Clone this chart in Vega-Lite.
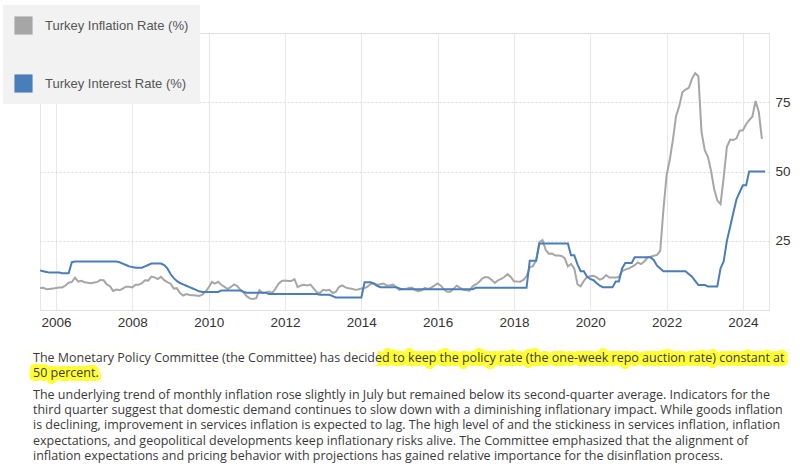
{
  "$schema": "https://vega.github.io/schema/vega-lite/v6.json",
  "padding": {"left": 3, "top": 5, "right": 0, "bottom": 0},
  "background": "white",
  "spacing": 23,
  "config": {
    "view": {"stroke": "#e6e6e6"},
    "axis": {"labelFont": "Liberation Sans", "labelFontSize": 13.5, "labelColor": "#333", "ticks": false, "domain": false, "title": null}
  },
  "datasets": {
    "ts": [
      {"d":"2005-08-01","i":7.91,"r":14.25},{"d":"2005-09-01","i":7.99,"r":14.0},{"d":"2005-10-01","i":7.52,"r":13.75},{"d":"2005-11-01","i":7.61,"r":13.5},{"d":"2005-12-01","i":7.72,"r":13.5},
      {"d":"2006-01-01","i":7.93,"r":13.5},{"d":"2006-02-01","i":8.15,"r":13.5},{"d":"2006-03-01","i":8.16,"r":13.25},{"d":"2006-04-01","i":8.83,"r":13.25},{"d":"2006-05-01","i":9.86,"r":13.25},{"d":"2006-06-01","i":10.12,"r":17.25},{"d":"2006-07-01","i":11.69,"r":17.5},{"d":"2006-08-01","i":10.26,"r":17.5},{"d":"2006-09-01","i":10.55,"r":17.5},{"d":"2006-10-01","i":9.98,"r":17.5},{"d":"2006-11-01","i":9.86,"r":17.5},{"d":"2006-12-01","i":9.65,"r":17.5},
      {"d":"2007-01-01","i":9.93,"r":17.5},{"d":"2007-02-01","i":10.16,"r":17.5},{"d":"2007-03-01","i":10.86,"r":17.5},{"d":"2007-04-01","i":10.72,"r":17.5},{"d":"2007-05-01","i":9.23,"r":17.5},{"d":"2007-06-01","i":8.6,"r":17.5},{"d":"2007-07-01","i":6.9,"r":17.5},{"d":"2007-08-01","i":7.39,"r":17.5},{"d":"2007-09-01","i":7.12,"r":17.25},{"d":"2007-10-01","i":7.7,"r":16.75},{"d":"2007-11-01","i":8.4,"r":16.25},{"d":"2007-12-01","i":8.39,"r":15.75},
      {"d":"2008-01-01","i":8.17,"r":15.5},{"d":"2008-02-01","i":9.1,"r":15.25},{"d":"2008-03-01","i":9.15,"r":15.25},{"d":"2008-04-01","i":9.66,"r":15.25},{"d":"2008-05-01","i":10.74,"r":15.75},{"d":"2008-06-01","i":10.61,"r":16.25},{"d":"2008-07-01","i":12.06,"r":16.75},{"d":"2008-08-01","i":11.77,"r":16.75},{"d":"2008-09-01","i":11.13,"r":16.75},{"d":"2008-10-01","i":11.99,"r":16.75},{"d":"2008-11-01","i":10.76,"r":16.25},{"d":"2008-12-01","i":10.06,"r":15.0},
      {"d":"2009-01-01","i":9.5,"r":13.0},{"d":"2009-02-01","i":7.73,"r":11.5},{"d":"2009-03-01","i":7.89,"r":10.5},{"d":"2009-04-01","i":6.13,"r":9.75},{"d":"2009-05-01","i":5.24,"r":9.25},{"d":"2009-06-01","i":5.73,"r":8.75},{"d":"2009-07-01","i":5.39,"r":8.25},{"d":"2009-08-01","i":5.33,"r":7.75},{"d":"2009-09-01","i":5.27,"r":7.25},{"d":"2009-10-01","i":5.08,"r":6.75},{"d":"2009-11-01","i":5.53,"r":6.5},{"d":"2009-12-01","i":6.53,"r":6.5},
      {"d":"2010-01-01","i":8.19,"r":6.5},{"d":"2010-02-01","i":10.13,"r":6.5},{"d":"2010-03-01","i":9.56,"r":6.5},{"d":"2010-04-01","i":10.19,"r":6.5},{"d":"2010-05-01","i":9.1,"r":7.0},{"d":"2010-06-01","i":8.37,"r":7.0},{"d":"2010-07-01","i":7.58,"r":7.0},{"d":"2010-08-01","i":8.33,"r":7.0},{"d":"2010-09-01","i":9.24,"r":7.0},{"d":"2010-10-01","i":8.62,"r":7.0},{"d":"2010-11-01","i":7.29,"r":7.0},{"d":"2010-12-01","i":6.4,"r":6.5},
      {"d":"2011-01-01","i":4.9,"r":6.25},{"d":"2011-02-01","i":4.16,"r":6.25},{"d":"2011-03-01","i":3.99,"r":6.25},{"d":"2011-04-01","i":4.26,"r":6.25},{"d":"2011-05-01","i":7.17,"r":6.25},{"d":"2011-06-01","i":6.24,"r":6.25},{"d":"2011-07-01","i":6.31,"r":6.25},{"d":"2011-08-01","i":6.65,"r":5.75},{"d":"2011-09-01","i":6.15,"r":5.75},{"d":"2011-10-01","i":7.66,"r":5.75},{"d":"2011-11-01","i":9.48,"r":5.75},{"d":"2011-12-01","i":10.45,"r":5.75},
      {"d":"2012-01-01","i":10.61,"r":5.75},{"d":"2012-02-01","i":10.43,"r":5.75},{"d":"2012-03-01","i":10.43,"r":5.75},{"d":"2012-04-01","i":11.14,"r":5.75},{"d":"2012-05-01","i":8.28,"r":5.75},{"d":"2012-06-01","i":8.87,"r":5.75},{"d":"2012-07-01","i":9.07,"r":5.75},{"d":"2012-08-01","i":8.88,"r":5.75},{"d":"2012-09-01","i":9.19,"r":5.75},{"d":"2012-10-01","i":7.8,"r":5.75},{"d":"2012-11-01","i":6.37,"r":5.75},{"d":"2012-12-01","i":6.16,"r":5.5},
      {"d":"2013-01-01","i":7.31,"r":5.5},{"d":"2013-02-01","i":7.03,"r":5.5},{"d":"2013-03-01","i":7.29,"r":5.5},{"d":"2013-04-01","i":6.13,"r":5.0},{"d":"2013-05-01","i":6.51,"r":4.5},{"d":"2013-06-01","i":8.3,"r":4.5},{"d":"2013-07-01","i":8.88,"r":4.5},{"d":"2013-08-01","i":8.17,"r":4.5},{"d":"2013-09-01","i":7.88,"r":4.5},{"d":"2013-10-01","i":7.71,"r":4.5},{"d":"2013-11-01","i":7.32,"r":4.5},{"d":"2013-12-01","i":7.4,"r":4.5},
      {"d":"2014-01-01","i":7.75,"r":4.5},{"d":"2014-02-01","i":7.89,"r":10.0},{"d":"2014-03-01","i":8.39,"r":10.0},{"d":"2014-04-01","i":9.38,"r":10.0},{"d":"2014-05-01","i":9.66,"r":9.5},{"d":"2014-06-01","i":9.16,"r":8.75},{"d":"2014-07-01","i":9.32,"r":8.25},{"d":"2014-08-01","i":9.54,"r":8.25},{"d":"2014-09-01","i":8.86,"r":8.25},{"d":"2014-10-01","i":8.96,"r":8.25},{"d":"2014-11-01","i":9.15,"r":8.25},{"d":"2014-12-01","i":8.17,"r":8.25},
      {"d":"2015-01-01","i":7.24,"r":7.75},{"d":"2015-02-01","i":7.55,"r":7.5},{"d":"2015-03-01","i":7.61,"r":7.5},{"d":"2015-04-01","i":7.91,"r":7.5},{"d":"2015-05-01","i":8.09,"r":7.5},{"d":"2015-06-01","i":7.2,"r":7.5},{"d":"2015-07-01","i":6.81,"r":7.5},{"d":"2015-08-01","i":7.14,"r":7.5},{"d":"2015-09-01","i":7.95,"r":7.5},{"d":"2015-10-01","i":7.58,"r":7.5},{"d":"2015-11-01","i":8.1,"r":7.5},{"d":"2015-12-01","i":8.81,"r":7.5},
      {"d":"2016-01-01","i":9.58,"r":7.5},{"d":"2016-02-01","i":8.78,"r":7.5},{"d":"2016-03-01","i":7.46,"r":7.5},{"d":"2016-04-01","i":6.57,"r":7.5},{"d":"2016-05-01","i":6.58,"r":7.5},{"d":"2016-06-01","i":7.64,"r":7.5},{"d":"2016-07-01","i":8.79,"r":7.5},{"d":"2016-08-01","i":8.05,"r":7.5},{"d":"2016-09-01","i":7.28,"r":7.5},{"d":"2016-10-01","i":7.16,"r":7.5},{"d":"2016-11-01","i":7.0,"r":7.5},{"d":"2016-12-01","i":8.53,"r":7.5},
      {"d":"2017-01-01","i":9.22,"r":8.0},{"d":"2017-02-01","i":10.13,"r":8.0},{"d":"2017-03-01","i":11.29,"r":8.0},{"d":"2017-04-01","i":11.87,"r":8.0},{"d":"2017-05-01","i":11.72,"r":8.0},{"d":"2017-06-01","i":10.9,"r":8.0},{"d":"2017-07-01","i":9.79,"r":8.0},{"d":"2017-08-01","i":10.68,"r":8.0},{"d":"2017-09-01","i":11.2,"r":8.0},{"d":"2017-10-01","i":11.9,"r":8.0},{"d":"2017-11-01","i":12.98,"r":8.0},{"d":"2017-12-01","i":11.92,"r":8.0},
      {"d":"2018-01-01","i":10.35,"r":8.0},{"d":"2018-02-01","i":10.26,"r":8.0},{"d":"2018-03-01","i":10.23,"r":8.0},{"d":"2018-04-01","i":10.85,"r":8.0},{"d":"2018-05-01","i":12.15,"r":8.0},{"d":"2018-06-01","i":15.39,"r":17.75},{"d":"2018-07-01","i":15.85,"r":17.75},{"d":"2018-08-01","i":17.9,"r":17.75},{"d":"2018-09-01","i":24.52,"r":24.0},{"d":"2018-10-01","i":25.24,"r":24.0},{"d":"2018-11-01","i":21.62,"r":24.0},{"d":"2018-12-01","i":20.3,"r":24.0},
      {"d":"2019-01-01","i":20.35,"r":24.0},{"d":"2019-02-01","i":19.67,"r":24.0},{"d":"2019-03-01","i":19.71,"r":24.0},{"d":"2019-04-01","i":19.5,"r":24.0},{"d":"2019-05-01","i":18.71,"r":24.0},{"d":"2019-06-01","i":15.72,"r":24.0},{"d":"2019-07-01","i":16.65,"r":19.75},{"d":"2019-08-01","i":15.01,"r":19.75},{"d":"2019-09-01","i":9.26,"r":16.5},{"d":"2019-10-01","i":8.55,"r":14.0},{"d":"2019-11-01","i":10.56,"r":14.0},{"d":"2019-12-01","i":11.84,"r":12.0},
      {"d":"2020-01-01","i":12.15,"r":11.25},{"d":"2020-02-01","i":12.37,"r":10.75},{"d":"2020-03-01","i":11.86,"r":9.75},{"d":"2020-04-01","i":10.94,"r":8.75},{"d":"2020-05-01","i":11.39,"r":8.25},{"d":"2020-06-01","i":12.62,"r":8.25},{"d":"2020-07-01","i":11.76,"r":8.25},{"d":"2020-08-01","i":11.77,"r":8.25},{"d":"2020-09-01","i":11.75,"r":10.25},{"d":"2020-10-01","i":11.89,"r":10.25},{"d":"2020-11-01","i":14.03,"r":15.0},{"d":"2020-12-01","i":14.6,"r":17.0},
      {"d":"2021-01-01","i":14.97,"r":17.0},{"d":"2021-02-01","i":15.61,"r":17.0},{"d":"2021-03-01","i":16.19,"r":19.0},{"d":"2021-04-01","i":17.14,"r":19.0},{"d":"2021-05-01","i":16.59,"r":19.0},{"d":"2021-06-01","i":17.53,"r":19.0},{"d":"2021-07-01","i":18.95,"r":19.0},{"d":"2021-08-01","i":19.25,"r":19.0},{"d":"2021-09-01","i":19.58,"r":18.0},{"d":"2021-10-01","i":19.89,"r":16.0},{"d":"2021-11-01","i":21.31,"r":15.0},{"d":"2021-12-01","i":36.08,"r":14.0},
      {"d":"2022-01-01","i":48.69,"r":14.0},{"d":"2022-02-01","i":54.44,"r":14.0},{"d":"2022-03-01","i":61.14,"r":14.0},{"d":"2022-04-01","i":69.97,"r":14.0},{"d":"2022-05-01","i":73.5,"r":14.0},{"d":"2022-06-01","i":78.62,"r":14.0},{"d":"2022-07-01","i":79.6,"r":14.0},{"d":"2022-08-01","i":80.21,"r":13.0},{"d":"2022-09-01","i":83.45,"r":12.0},{"d":"2022-10-01","i":85.51,"r":10.5},{"d":"2022-11-01","i":84.39,"r":9.0},{"d":"2022-12-01","i":64.27,"r":9.0},
      {"d":"2023-01-01","i":57.68,"r":9.0},{"d":"2023-02-01","i":55.18,"r":8.5},{"d":"2023-03-01","i":50.51,"r":8.5},{"d":"2023-04-01","i":43.68,"r":8.5},{"d":"2023-05-01","i":39.59,"r":8.5},{"d":"2023-06-01","i":38.21,"r":15.0},{"d":"2023-07-01","i":47.83,"r":17.5},{"d":"2023-08-01","i":58.94,"r":25.0},{"d":"2023-09-01","i":61.53,"r":30.0},{"d":"2023-10-01","i":61.36,"r":35.0},{"d":"2023-11-01","i":61.98,"r":40.0},{"d":"2023-12-01","i":64.77,"r":42.5},
      {"d":"2024-01-01","i":64.86,"r":45.0},{"d":"2024-02-01","i":67.07,"r":45.0},{"d":"2024-03-01","i":68.5,"r":50.0},{"d":"2024-04-01","i":69.8,"r":50.0},{"d":"2024-05-01","i":75.45,"r":50.0},{"d":"2024-06-01","i":71.6,"r":50.0},{"d":"2024-07-01","i":61.78,"r":50.0},{"d":"2024-08-01","i":null,"r":50.0}
    ],
    "txt": [
      {"p": 0,
       "t": ["The Monetary Policy Committee (the Committee) has decided to keep the policy rate (the one-week repo auction rate) constant at", "50 percent."],
       "hlA": ["The Monetary Policy Committee (the Committee) has decided to keep the policy rate (the one-week repo auction rate) constant at"],
       "mask": ["The Monetary Policy Committee (the Committee) has decid"],
       "hlB": ["", "50 percent."]},
      {"p": 1,
       "t": ["The underlying trend of monthly inflation rose slightly in July but remained below its second-quarter average. Indicators for the",
             "third quarter suggest that domestic demand continues to slow down with a diminishing inflationary impact. While goods inflation",
             "is declining, improvement in services inflation is expected to lag. The high level of and the stickiness in services inflation, inflation",
             "expectations, and geopolitical developments keep inflationary risks alive. The Committee emphasized that the alignment of",
             "inflation expectations and pricing behavior with projections has gained relative importance for the disinflation process."]}
    ]
  },
  "vconcat": [
    {
      "width": 729,
      "height": 277,
      "data": {"name": "ts"},
      "transform": [{"fold": ["i", "r"], "as": ["s", "v"]}],
      "mark": {"type": "line", "strokeWidth": 2, "clip": true},
      "encoding": {
        "x": {
          "field": "d", "type": "temporal",
          "scale": {"domain": [{"year": 2005, "month": 7, "date": 31}, {"year": 2024, "month": 9, "date": 7}]},
          "axis": {
            "values": [{"year": 2006}, {"year": 2008}, {"year": 2010}, {"year": 2012}, {"year": 2014}, {"year": 2016}, {"year": 2018}, {"year": 2020}, {"year": 2022}, {"year": 2024}],
            "format": "%Y", "grid": true, "gridColor": "#e8e8e8", "labelPadding": 5
          }
        },
        "y": {
          "field": "v", "type": "quantitative",
          "scale": {"domain": [0, 100], "nice": false},
          "axis": {
            "orient": "right", "values": [0, 25, 50, 75, 100],
            "labelExpr": "datum.value == 25 || datum.value == 50 || datum.value == 75 ? datum.label : ''",
            "grid": true, "gridColor": "#d9d9d9", "gridDash": [2, 2], "labelPadding": 6
          }
        },
        "color": {
          "field": "s", "type": "nominal",
          "scale": {"domain": ["i", "r"], "range": ["#a6a6a6", "#4a7ebb"]},
          "legend": {
            "title": null, "orient": "none", "legendX": -37, "legendY": -28,
            "fillColor": "#f2f2f2", "padding": 11,
            "symbolType": "square", "symbolSize": 330, "symbolStrokeWidth": 0,
            "rowPadding": 39, "labelOffset": 12,
            "labelFont": "Liberation Sans", "labelFontSize": 13, "labelColor": "#555",
            "labelExpr": "datum.label == 'i' ? 'Turkey Inflation Rate (%)' : 'Turkey Interest Rate (%)'",
            "encode": {"symbols": {"update": {"fill": {"scale": "color", "field": "value"}, "stroke": {"value": "transparent"}, "opacity": {"value": 1}}}}
          }
        }
      }
    },
    {
      "width": 760,
      "height": 37,
      "view": {"stroke": null},
      "data": {"name": "txt"},
      "encoding": {
        "x": {"datum": 0, "type": "quantitative", "scale": {"domain": [0, 1]}, "axis": null},
        "y": {"field": "p", "type": "quantitative", "scale": {"domain": [0, 1], "reverse": true, "nice": false}, "axis": null}
      },
      "layer": [
        {
          "transform": [{"filter": "datum.p == 0"}],
          "mark": {"type": "text", "align": "left", "baseline": "top", "dx": -7, "font": "Open Sans", "fontSize": 12.5, "lineHeight": 15.2, "fill": "#ffff33", "stroke": "#ffff33", "strokeWidth": 8, "strokeJoin": "round"},
          "encoding": {"text": {"field": "hlA"}}
        },
        {
          "transform": [{"filter": "datum.p == 0"}],
          "mark": {"type": "text", "align": "left", "baseline": "top", "dx": -7, "font": "Open Sans", "fontSize": 12.5, "lineHeight": 15.2, "fill": "white", "stroke": "white", "strokeWidth": 8, "strokeJoin": "round"},
          "encoding": {"text": {"field": "mask"}}
        },
        {
          "transform": [{"filter": "datum.p == 0"}],
          "mark": {"type": "text", "align": "left", "baseline": "top", "dx": -7, "font": "Open Sans", "fontSize": 12.5, "lineHeight": 15.2, "fill": "#ffff33", "stroke": "#ffff33", "strokeWidth": 8, "strokeJoin": "round"},
          "encoding": {"text": {"field": "hlB"}}
        },
        {
          "mark": {"type": "text", "align": "left", "baseline": "top", "dx": -7, "font": "Open Sans", "fontSize": 12.5, "lineHeight": 15.2, "fill": "#3a3a3a"},
          "encoding": {"text": {"field": "t"}}
        }
      ]
    }
  ]
}
